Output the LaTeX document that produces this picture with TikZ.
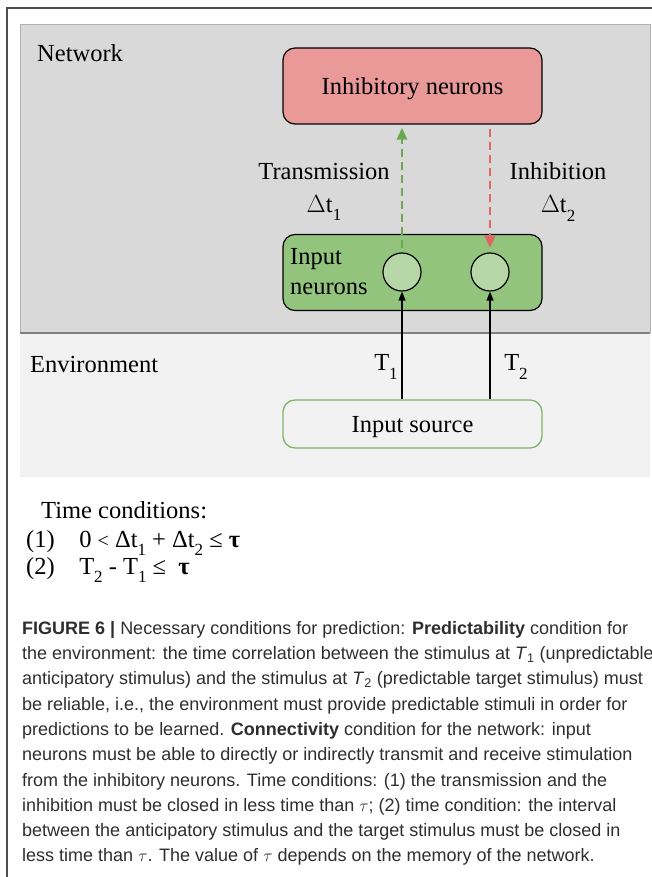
\documentclass[tikz,border=0pt]{standalone}
\usepackage{fontspec}
\setmainfont{Liberation Serif}
\newfontfamily\capfont{Liberation Sans}
\usetikzlibrary{positioning,arrows.meta}

\definecolor{netgrey}{HTML}{D9D9D9}
\definecolor{envgrey}{HTML}{F2F2F2}
\definecolor{inhred}{HTML}{EA9999}
\definecolor{inpgreen}{HTML}{93C47D}
\definecolor{cellgreen}{HTML}{B6D7A8}
\definecolor{transgreen}{HTML}{6AA84F}
\definecolor{inhline}{HTML}{E06666}
\definecolor{captext}{HTML}{2E2E2E}

\newcommand{\lowsub}[1]{\raisebox{-0.75ex}{\fontsize{17}{17}\selectfont #1}}

\tikzset{
  txt/.style={font=\fontsize{24.5}{33}\selectfont, inner sep=0pt},
  popbox/.style={draw=black, line width=1.2pt, rounded corners=12pt,
    minimum width=259pt, minimum height=76pt, text depth=0pt, txt},
  cell/.style={circle, draw=black, line width=1.2pt, fill=cellgreen,
    minimum size=38pt, inner sep=0pt},
  feed/.style={-{Triangle[length=9pt,width=7pt]}, line width=1.3pt},
  dasharrow/.style={-{Triangle[length=12pt,width=10pt]}, line width=2.8pt,
    dash pattern=on 8pt off 5pt},
}

\begin{document}
\begin{tikzpicture}[x=1pt,y=-1pt]
  \useasboundingbox (0,0) rectangle (652,877);
  % network and environment
  \fill[netgrey] (20,24) rectangle (650,333);
  \draw[black!30, line width=0.8pt] (20,333) -- (20,24) -- (650,24) -- (650,333);
  \fill[envgrey] (20,333) rectangle (650,477);
  \draw[black!50, line width=1.6pt] (20,333) -- (650,333);
  \draw[black!70, line width=1.5pt] (652,8) -- (7,8) -- (7,877);

  \node[txt, anchor=base west] (net) at (37,62) {Network};
  \node[txt, anchor=base west] (env) at (30,372) {Environment};

  \node[popbox, fill=inhred] (inhib) at (412.5,86) {Inhibitory neurons};
  \node[popbox, fill=inpgreen] (inp) at (412.5,272.5) {};
  \node[txt, anchor=west, align=left, font=\fontsize{24.5}{30}\selectfont] (inptxt) at (290,272) {Input\\neurons};
  \node[cell] (c1) at (402,272) {};
  \node[cell] (c2) at (490,272) {};
  \node[popbox, draw=transgreen!85, line width=1.3pt, minimum height=48pt] (src) at (412.5,424) {Input source};

  \draw[feed] (c1 |- src.north) -- (c1.south);
  \draw[feed] (c2 |- src.north) -- (c2.south);
  \draw[dasharrow, transgreen, shorten <=24pt, shorten >=3pt] (c1.center) -- (c1 |- inhib.south);
  \draw[dasharrow, inhline, shorten <=4pt, shorten >=24pt] (c2 |- inhib.south) -- (c2.center);

  \node[txt, align=center] (trans) at (324,192) {Transmission\\$\Delta$t\lowsub{1}};
  \node[txt, align=center] (inh) at (558,192) {Inhibition\\$\Delta$t\lowsub{2}};
  \node[txt] (t1) at (386,367) {T\lowsub{1}};
  \node[txt] (t2) at (516,367) {T\lowsub{2}};

  % time conditions
  \node[txt, anchor=base west] (tc) at (41,518) {Time conditions:};
  \node[txt, anchor=base west] (tc1) at (26,547) {(1)\quad 0 {\fontsize{20}{20}\selectfont<} Δt\lowsub{1} + Δt\lowsub{2} ≤ \textbf{τ}};
  \node[txt, anchor=base west] (tc2) at (26,574) {(2)\quad T\lowsub{2} - T\lowsub{1} ≤ \ \textbf{τ}};

  % caption
  \node[anchor=north west, inner sep=0pt, align=left, text=captext,
    font=\capfont\fontsize{18}{25.3}\selectfont] (cap) at (22,621) {%
    \textbf{FIGURE 6 |} Necessary conditions for prediction: \textbf{Predictability} condition for\\
    the environment: the time correlation between the stimulus at \textit{T}\textsubscript{1} (unpredictable\\
    anticipatory stimulus) and the stimulus at \textit{T}\textsubscript{2} (predictable target stimulus) must\\
    be reliable, i.e., the environment must provide predictable stimuli in order for\\
    predictions to be learned. \textbf{Connectivity} condition for the network: input\\
    neurons must be able to directly or indirectly transmit and receive stimulation\\
    from the inhibitory neurons. Time conditions: (1) the transmission and the\\
    inhibition must be closed in less time than $\tau$; (2) time condition: the interval\\
    between the anticipatory stimulus and the target stimulus must be closed in\\
    less time than $\tau$. The value of $\tau$ depends on the memory of the network.};
\end{tikzpicture}
\end{document}
